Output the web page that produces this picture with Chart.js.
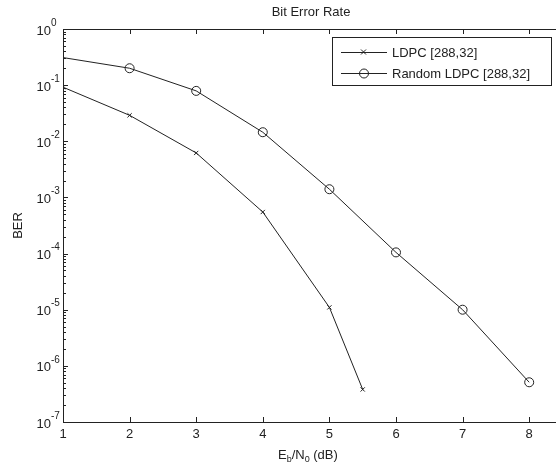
<!DOCTYPE html>
<html>
<head>
<meta charset="utf-8">
<script src="https://cdn.jsdelivr.net/npm/chart.js@4/dist/chart.umd.min.js"></script>
<style>
  body { margin: 0; background: #fff; }
  canvas { display: block; }
</style>
</head>
<body>
<canvas id="berChart" width="556" height="470"></canvas>
<script>
// data
var ebn0Ldpc = [1, 2, 3, 4, 5, 5.5];
var berLdpc = [0.092, 0.029, 0.0062, 5.5e-4, 1.1e-5, 3.8e-7];
var ebn0Rand = [0, 2, 3, 4, 5, 6, 7, 8];
var berRand = [0.48, 0.2, 0.079, 0.0145, 1.4e-3, 1.05e-4, 1.0e-5, 5.1e-7];
var xTicks = [1, 2, 3, 4, 5, 6, 7, 8];
var yExponents = [0, -1, -2, -3, -4, -5, -6, -7];
var seriesNames = ['LDPC [288,32]', 'Random LDPC [288,32]'];

var ink = '#222';
var fontFam = '"Liberation Sans", Arial, sans-serif';

function toPoints(xs, ys) {
    var pts = [];
    for (var k = 0; k < xs.length; k++) pts.push({x: xs[k], y: ys[k]});
    return pts;
}

// matlab style frame, inward ticks, labels, legend
var matlabAxes = {
    id: 'matlabAxes',
    afterDraw: function(chart) {
        var ctx = chart.ctx;
        var a = chart.chartArea;
        var xs = chart.scales.x, ys = chart.scales.y;
        var w = chart.width;
        ctx.save();
        ctx.strokeStyle = ink;
        ctx.lineWidth = 1;
        ctx.beginPath();
        ctx.moveTo(a.left + 0.5, a.top + 0.5);
        ctx.lineTo(w, a.top + 0.5);
        ctx.moveTo(a.left + 0.5, a.top);
        ctx.lineTo(a.left + 0.5, a.bottom + 0.5);
        ctx.lineTo(w, a.bottom + 0.5);
        // x ticks, top and bottom
        xTicks.forEach(function(v) {
            var px = Math.round(xs.getPixelForValue(v)) + 0.5;
            ctx.moveTo(px, a.bottom);
            ctx.lineTo(px, a.bottom - 5);
            ctx.moveTo(px, a.top);
            ctx.lineTo(px, a.top + 5);
        });
        // y ticks major + minor
        yExponents.forEach(function(e) {
            var py = Math.round(ys.getPixelForValue(Math.pow(10, e))) + 0.5;
            ctx.moveTo(a.left, py);
            ctx.lineTo(a.left + 5, py);
            if (e < 0) {
                for (var m = 2; m <= 9; m++) {
                    var my = Math.round(ys.getPixelForValue(m * Math.pow(10, e))) + 0.5;
                    ctx.moveTo(a.left, my);
                    ctx.lineTo(a.left + 3, my);
                }
            }
        });
        ctx.stroke();

        ctx.fillStyle = ink;
        // x tick labels
        ctx.font = '13px ' + fontFam;
        ctx.textAlign = 'center';
        ctx.textBaseline = 'top';
        xTicks.forEach(function(v) {
            ctx.fillText(String(v), xs.getPixelForValue(v), a.bottom + 6);
        });
        // y tick labels 10^k
        yExponents.forEach(function(e) {
            var py = ys.getPixelForValue(Math.pow(10, e));
            ctx.font = '13px ' + fontFam;
            ctx.textAlign = 'right';
            ctx.textBaseline = 'middle';
            ctx.fillText('10', a.left - 12, py + 2);
            ctx.font = '10px ' + fontFam;
            ctx.textAlign = 'left';
            ctx.fillText(String(e), a.left - 12, py - 6);
        });

        // title
        ctx.font = '13px ' + fontFam;
        ctx.textAlign = 'center';
        ctx.textBaseline = 'middle';
        ctx.fillText('Bit Error Rate', 311, 12);

        // y label
        ctx.save();
        ctx.translate(18, (a.top + a.bottom) / 2);
        ctx.rotate(-Math.PI / 2);
        ctx.fillText('BER', 0, 0);
        ctx.restore();

        // x label E_b/N_0 (dB)
        var lx = 278, ly = 455;
        ctx.textAlign = 'left';
        ctx.font = '13px ' + fontFam;
        ctx.fillText('E', lx, ly);
        lx += ctx.measureText('E').width;
        ctx.font = '9px ' + fontFam;
        ctx.fillText('b', lx, ly + 5);
        lx += ctx.measureText('b').width;
        ctx.font = '13px ' + fontFam;
        ctx.fillText('/N', lx, ly);
        lx += ctx.measureText('/N').width;
        ctx.font = '9px ' + fontFam;
        ctx.fillText('0', lx, ly + 5);
        lx += ctx.measureText('0').width;
        ctx.font = '13px ' + fontFam;
        ctx.fillText(' (dB)', lx, ly);

        // legend
        ctx.fillStyle = '#fff';
        ctx.fillRect(332.5, 37.5, 219, 48);
        ctx.strokeStyle = ink;
        ctx.strokeRect(332.5, 37.5, 219, 48);
        var rows = [52, 73];
        rows.forEach(function(ry, k) {
            ctx.beginPath();
            ctx.moveTo(341, ry + 0.5);
            ctx.lineTo(387, ry + 0.5);
            ctx.stroke();
            ctx.beginPath();
            if (k === 0) {
                ctx.moveTo(361, ry - 2.5); ctx.lineTo(366, ry + 2.5);
                ctx.moveTo(366, ry - 2.5); ctx.lineTo(361, ry + 2.5);
            } else {
                ctx.arc(364, ry + 0.5, 4.5, 0, Math.PI * 2);
            }
            ctx.stroke();
            ctx.fillStyle = ink;
            ctx.font = '13px ' + fontFam;
            ctx.textAlign = 'left';
            ctx.textBaseline = 'middle';
            ctx.fillText(seriesNames[k], 392, ry + 1);
        });
        ctx.restore();
    }
};

var chart = new Chart(document.getElementById('berChart').getContext('2d'), {
    type: 'line',
    data: {
        datasets: [{
            label: seriesNames[0],
            data: toPoints(ebn0Ldpc, berLdpc),
            borderColor: ink,
            borderWidth: 1,
            pointStyle: 'crossRot',
            pointRadius: 3,
            pointBorderColor: ink,
            pointBorderWidth: 1,
            tension: 0
        }, {
            label: seriesNames[1],
            data: toPoints(ebn0Rand, berRand),
            borderColor: ink,
            borderWidth: 1,
            pointStyle: 'circle',
            pointRadius: 4.5,
            pointBackgroundColor: 'rgba(0,0,0,0)',
            pointBorderColor: ink,
            pointBorderWidth: 1,
            tension: 0
        }]
    },
    options: {
        responsive: false,
        animation: false,
        layout: { padding: { top: 29, right: 0, bottom: 0, left: 0 } },
        plugins: { legend: { display: false }, title: { display: false }, tooltip: { enabled: false } },
        scales: {
            x: {
                type: 'linear', min: 1, max: 8.32,
                grid: { display: false }, border: { display: false },
                ticks: { display: false },
                afterFit: function(s) { s.height = 48; }
            },
            y: {
                type: 'logarithmic', min: 1e-7, max: 1,
                grid: { display: false }, border: { display: false },
                ticks: { display: false },
                afterFit: function(s) { s.width = 63; }
            }
        }
    },
    plugins: [matlabAxes]
});
</script>
</body>
</html>
